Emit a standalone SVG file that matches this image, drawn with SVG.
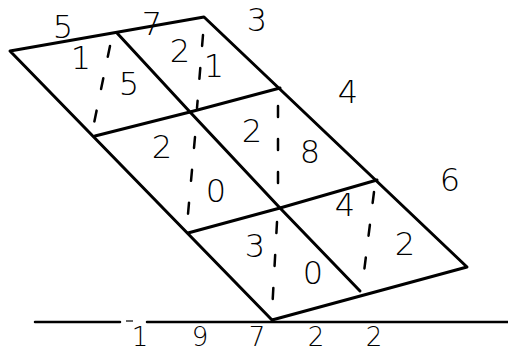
<svg xmlns="http://www.w3.org/2000/svg" width="508" height="354" viewBox="0 0 508 354">
<style>
.g{fill:none;stroke:#000;stroke-width:3;stroke-linecap:round;stroke-linejoin:round}
.d{fill:none;stroke:#000;stroke-width:2.5;stroke-dasharray:11 22;stroke-linecap:round}
text{font-family:"DejaVu Sans","Liberation Sans",sans-serif;font-weight:200;font-size:32px;fill:#000;text-anchor:middle}
.r{font-size:26px}
</style>
<rect width="508" height="354" fill="#fff"/>
<g id="lattice">
<polygon class="g" points="10,51 204,17 467,267 272,320"/>
<polyline class="g" points="95,136 190,112 280,88"/>
<polyline class="g" points="188,233 280,208 377,180"/>
<polyline class="g" points="117,33 190,112 280,208 360,291"/>
</g>
<g id="diagonals">
<line class="d" x1="110" y1="46" x2="93" y2="128"/>
<line class="d" x1="203" y1="35" x2="197" y2="108"/>
<line class="d" x1="195" y1="137" x2="187" y2="225"/>
<line class="d" x1="278" y1="106" x2="278" y2="200"/>
<line class="d" x1="277" y1="222" x2="272" y2="312"/>
<line class="d" x1="374" y1="192" x2="363" y2="280"/>
</g>
<g id="baseline">
<line class="g" x1="35" y1="322" x2="120" y2="322" style="stroke-width:2.5"/>
<line class="g" x1="147" y1="322" x2="508" y2="322" style="stroke-width:2.5"/>
<line x1="126" y1="321" x2="133" y2="321" stroke="#000" stroke-width="1.2"/>
</g>
<g id="top-digits">
<text x="63" y="38">5</text>
<text x="152" y="35">7</text>
<text x="257" y="31">3</text>
<text x="348" y="103">4</text>
<text x="450" y="191">6</text>
</g>
<g id="cell-digits">
<text x="81" y="69">1</text>
<text x="129" y="95">5</text>
<text x="180" y="62">2</text>
<text x="214" y="77">1</text>
<text x="162" y="158">2</text>
<text x="216" y="202">0</text>
<text x="252" y="142">2</text>
<text x="310" y="163">8</text>
<text x="255" y="257">3</text>
<text x="313" y="284">0</text>
<text x="345" y="216">4</text>
<text x="405" y="255">2</text>
</g>
<g id="result">
<text class="r" x="140" y="346">1</text>
<text class="r" x="200" y="346">9</text>
<text class="r" x="257" y="346">7</text>
<text class="r" x="316" y="346">2</text>
<text class="r" x="374" y="346">2</text>
</g>
</svg>
